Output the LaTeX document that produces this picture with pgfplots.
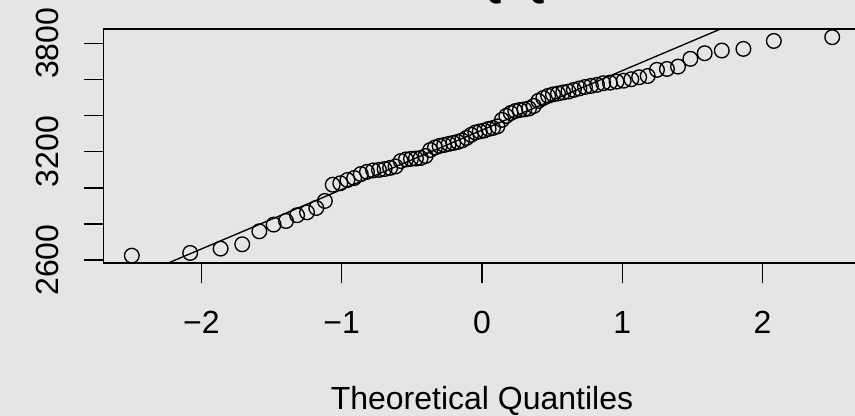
\documentclass[border=0pt]{standalone}
\usepackage{fontspec}
\setmainfont{Liberation Sans}
\usepackage{pgfplots}
\pgfplotsset{compat=1.18}
\definecolor{bg}{HTML}{E5E5E5}
\begin{document}
\begin{tikzpicture}
\useasboundingbox (0pt,0pt) rectangle (641.25pt,312pt);
\clip (0pt,0pt) rectangle (641.25pt,312pt);
\fill[bg] (0pt,0pt) rectangle (641.25pt,312pt);
\begin{axis}[
  at={(77.7pt,114.75pt)}, anchor=south west,
  scale only axis, width=567.6pt, height=175.5pt,
  xmin=-2.697, xmax=2.697, ymin=2583.4, ymax=3879.3,
  axis line style={line width=1.1pt, black},
  xtick={-2,-1,0,1,2}, xticklabels={−2,−1,0,1,2},
  ytick={2600,2800,3000,3200,3400,3600,3800},
  yticklabels={2600,,,3200,,,3800},
  xtick pos=bottom, ytick pos=left,
  tick align=outside, major tick length=15pt,
  every tick/.style={line width=1.1pt, black},
  ticklabel style={font=\fontsize{24}{28}\selectfont},
  xticklabel style={anchor=base},
  xticklabel shift=37.5pt,
  yticklabel style={rotate=90, anchor=base},
  yticklabel shift=19pt,
  title={Normal Q-Q Plot},
  title style={at={(axis description cs:0.5,1)}, anchor=base, yshift=18pt, font=\fontsize{28.8}{34}\selectfont\bfseries},
  xlabel={Theoretical Quantiles},
  xlabel style={at={(axis description cs:0.5,0)}, anchor=base, yshift=-110.25pt, font=\fontsize{24}{28}\selectfont},
]
\addplot[only marks, mark=o, mark size=5.5pt, mark options={line width=1pt, black}] table {
x y
-2.496 2624
-2.080 2639
-1.863 2663
-1.709 2687
-1.587 2759
-1.485 2796
-1.397 2816
-1.318 2848
-1.247 2864
-1.181 2888
-1.120 2927
-1.064 3017
-1.010 3025
-0.959 3043
-0.911 3054
-0.864 3076
-0.820 3088
-0.776 3096
-0.734 3099
-0.694 3104
-0.655 3110
-0.616 3118
-0.579 3148
-0.542 3157
-0.506 3160
-0.471 3162
-0.437 3165
-0.402 3176
-0.369 3209
-0.335 3223
-0.302 3232
-0.270 3237
-0.237 3243
-0.205 3248
-0.173 3254
-0.142 3262
-0.110 3276
-0.078 3293
-0.047 3306
-0.016 3312
0.016 3317
0.047 3326
0.078 3331
0.110 3340
0.142 3376
0.173 3398
0.205 3414
0.237 3425
0.270 3431
0.302 3434
0.335 3439
0.369 3453
0.402 3481
0.437 3497
0.471 3509
0.506 3517
0.542 3522
0.579 3528
0.616 3533
0.655 3542
0.694 3550
0.734 3558
0.776 3564
0.820 3570
0.864 3579
0.911 3582
0.959 3588
1.010 3593
1.064 3601
1.120 3612
1.181 3619
1.247 3653
1.318 3658
1.397 3671
1.485 3714
1.587 3745
1.709 3760
1.863 3769
2.080 3813
2.496 3834
};
\addplot[black, line width=1pt] coordinates {(-2.8,2397.7) (2.8,4241.3)};
\end{axis}
\end{tikzpicture}
\end{document}
